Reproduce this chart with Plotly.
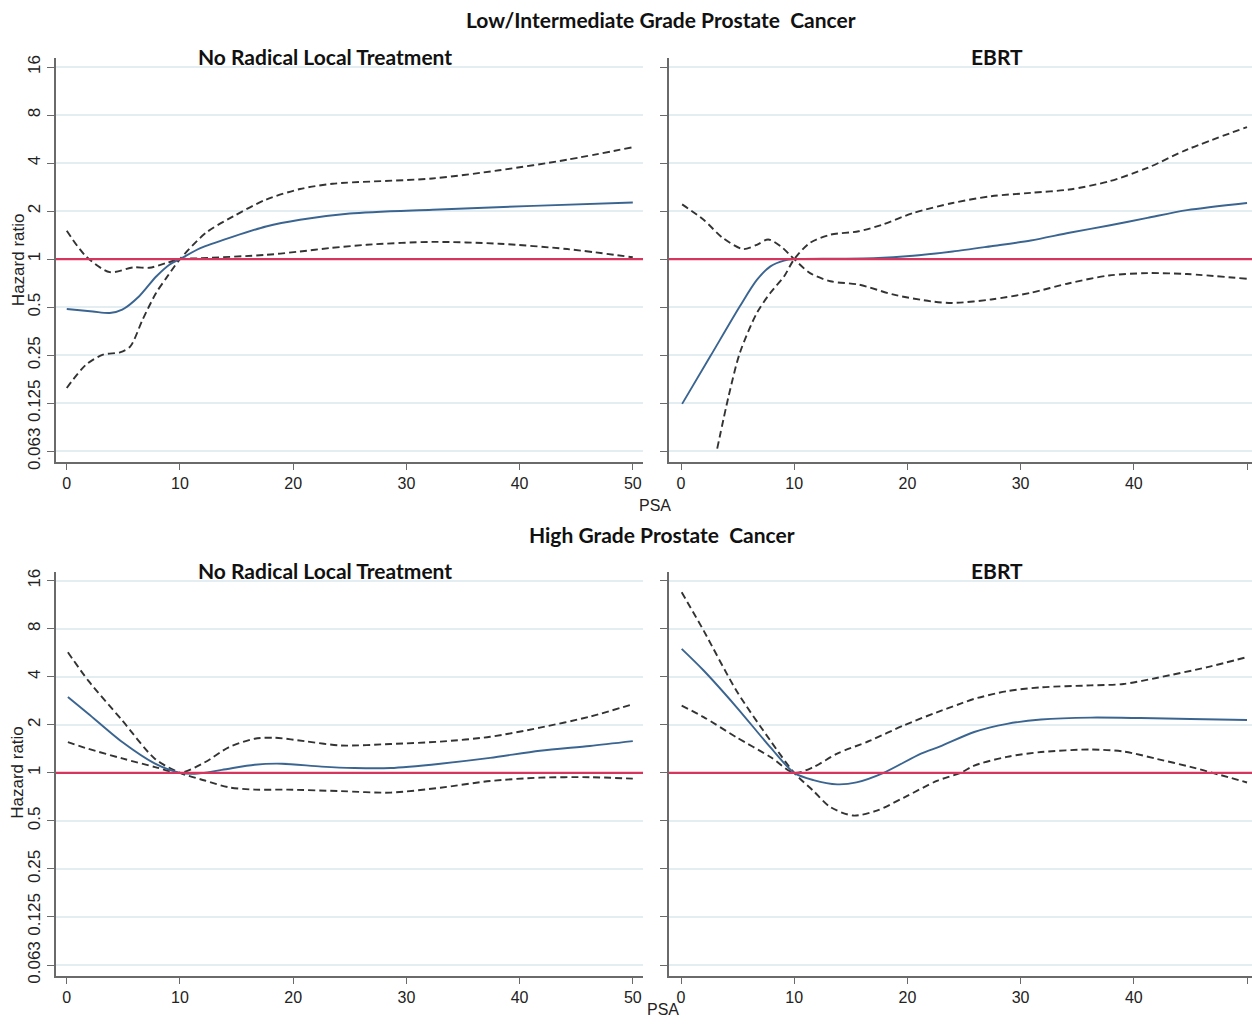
import math
import plotly.graph_objects as go

W, H = 1252, 1027

# ---------------- data (hazard ratios) ----------------
# Top-left: Low/Intermediate grade, No Radical Local Treatment
tl_blue_x = [0, 2.3, 3.8, 4.9, 6.4, 7.9, 9.1, 10, 11.8, 14.7, 17.6, 20.6, 25, 32.3, 41.2, 50]
tl_blue_y = [0.487, 0.470, 0.460, 0.483, 0.586, 0.779, 0.927, 1, 1.173, 1.385, 1.602, 1.765, 1.932, 2.042, 2.158, 2.266]
tl_ciA_x = [0, 1.7, 3.8, 5.9, 7.3, 8.8, 10, 11.8, 17.6, 20.6, 23.2, 26.5, 32.3, 38.2, 44.2, 50]
tl_ciA_y = [1.505, 1.042, 0.829, 0.889, 0.883, 0.946, 1, 1.014, 1.064, 1.117, 1.173, 1.231, 1.283, 1.249, 1.157, 1.028]
tl_ciB_x = [0, 1.7, 3.2, 4.7, 5.6, 6.7, 7.9, 8.8, 10, 12.3, 14.7, 17.6, 20.6, 23.5, 32.3, 38.2, 44.2, 50]
tl_ciB_y = [0.156, 0.218, 0.252, 0.261, 0.283, 0.418, 0.616, 0.763, 1, 1.464, 1.853, 2.362, 2.751, 2.969, 3.204, 3.605, 4.199, 5.028]

# Top-right: Low/Intermediate grade, EBRT
tr_blue_x = [0.1, 2.6, 5.2, 6.7, 7.9, 9.1, 10, 13.6, 17, 20.5, 24, 27.4, 30.9, 34.3, 37.8, 41.2, 44.7, 50]
tr_blue_y = [0.124, 0.247, 0.507, 0.742, 0.901, 0.979, 1, 1.007, 1.014, 1.050, 1.117, 1.206, 1.310, 1.464, 1.625, 1.815, 2.028, 2.250]
tr_ciA_x = [0.1, 2.0, 3.7, 5.5, 6.7, 7.7, 8.8, 10, 11.4, 13.2, 15.7, 18.8, 22.2, 24, 27.4, 30.9, 34.3, 37.8, 41.2, 44.7, 50]
tr_ciA_y = [2.204, 1.765, 1.357, 1.157, 1.231, 1.329, 1.206, 1, 0.818, 0.727, 0.693, 0.599, 0.543, 0.532, 0.559, 0.616, 0.707, 0.790, 0.818, 0.807, 0.753]
tr_ciB_x = [3.2, 4.2, 5.2, 6.7, 7.9, 9.1, 10, 11.4, 13.2, 15.7, 17.8, 20.5, 24, 27.4, 30.9, 34.3, 37.8, 41.2, 44.7, 50]
tr_ciB_y = [0.065, 0.138, 0.259, 0.460, 0.616, 0.779, 1, 1.266, 1.424, 1.495, 1.647, 1.945, 2.250, 2.479, 2.603, 2.732, 3.073, 3.732, 4.857, 6.727]

# Bottom-left: High grade, No Radical Local Treatment
bl_blue_x = [0.1, 1.9, 4.9, 7.8, 10, 11.3, 13.7, 16.6, 19, 22.5, 25.4, 28.6, 33, 37.4, 41.8, 46.2, 50]
bl_blue_y = [2.990, 2.346, 1.558, 1.141, 1, 0.986, 1.043, 1.125, 1.141, 1.094, 1.072, 1.072, 1.141, 1.240, 1.376, 1.474, 1.580]
bl_ciA_x = [0.1, 1.9, 4.9, 7.8, 10, 12.2, 14.3, 16.6, 19.5, 24.2, 28.6, 33, 37.4, 41.8, 46.2, 50]
bl_ciA_y = [5.696, 3.784, 2.129, 1.223, 1, 0.895, 0.812, 0.785, 0.785, 0.768, 0.752, 0.807, 0.889, 0.933, 0.939, 0.920]
bl_ciB_x = [0.1, 1.9, 4.9, 7.8, 10, 12.2, 14.3, 16.6, 18.4, 21, 24.2, 28.6, 33, 37.4, 41.8, 46.2, 50]
bl_ciB_y = [1.558, 1.414, 1.231, 1.087, 1, 1.165, 1.444, 1.636, 1.659, 1.580, 1.484, 1.516, 1.569, 1.682, 1.919, 2.250, 2.694]

# Bottom-right: High grade, EBRT
br_blue_x = [0.06, 2.0, 4.9, 7.9, 10, 11.7, 13.8, 15.5, 17.9, 21.2, 22.9, 25.9, 28.8, 31.8, 36.2, 40.6, 45, 50]
br_blue_y = [5.979, 4.377, 2.585, 1.444, 1, 0.901, 0.847, 0.871, 1, 1.320, 1.464, 1.802, 2.028, 2.158, 2.219, 2.204, 2.173, 2.144]
br_ciA_x = [0.06, 2.0, 4.9, 7.9, 10, 11.7, 13.2, 15.2, 17.3, 19.7, 22.6, 24.7, 25.9, 28.8, 31.8, 36.2, 39.1, 42.1, 45, 47.4, 50]
br_ciA_y = [13.55, 7.78, 3.27, 1.59, 1, 0.77, 0.61, 0.54, 0.58, 0.70, 0.89, 1.0, 1.11, 1.26, 1.35, 1.40, 1.36, 1.22, 1.09, 0.98, 0.87]
br_ciB_x = [0.06, 2.0, 4.9, 7.9, 10, 11.7, 13.8, 16.7, 19.7, 22.6, 24.7, 25.9, 28.8, 31.8, 36.2, 39.1, 42.1, 46.5, 50]
br_ciB_y = [2.639, 2.235, 1.670, 1.257, 1, 1.087, 1.320, 1.591, 1.986, 2.395, 2.713, 2.908, 3.249, 3.434, 3.531, 3.605, 3.945, 4.595, 5.315]

y_tickvals = [0.0625, 0.125, 0.25, 0.5, 1, 2, 4, 8, 16]
y_ticktext = ["0.063", "0.125", "0.25", "0.5", "1", "2", "4", "8", "16"]
x_tickvals = [0, 10, 20, 30, 40, 50]
x_ticktext = ["0", "10", "20", "30", "40", "50"]

row_titles = ["Low/Intermediate Grade Prostate\u00a0 Cancer", "High Grade Prostate\u00a0 Cancer"]
col_titles = ["No Radical Local Treatment", "EBRT"]
y_title = "Hazard ratio"
x_title = "PSA"

# ---------------- styling ----------------
BLUE = "#3b6591"
DASH = "#333333"
RED = "#d6365e"
GRID = "#e4edf2"
AXIS = "#6a6a6a"


def px(x):
    return x / W


def py(y):
    # vertical pixel position (with a small correction observed in rendering)
    yd = (y - 3.2) / 0.988
    return 1 - yd / H


fig = go.Figure()

panels = [
    ("x", "y", tl_blue_x, tl_blue_y, tl_ciA_x, tl_ciA_y, tl_ciB_x, tl_ciB_y),
    ("x2", "y2", tr_blue_x, tr_blue_y, tr_ciA_x, tr_ciA_y, tr_ciB_x, tr_ciB_y),
    ("x3", "y3", bl_blue_x, bl_blue_y, bl_ciA_x, bl_ciA_y, bl_ciB_x, bl_ciB_y),
    ("x4", "y4", br_blue_x, br_blue_y, br_ciA_x, br_ciA_y, br_ciB_x, br_ciB_y),
]

for xa, ya, bx, by, ax_, ay_, cx, cy in panels:
    for sx, sy in ((ax_, ay_), (cx, cy)):
        fig.add_trace(go.Scatter(x=sx, y=sy, xaxis=xa, yaxis=ya, mode="lines",
                                 line=dict(color=DASH, width=1.9, dash="7px,4px",
                                           shape="spline", smoothing=0.8),
                                 showlegend=False, hoverinfo="skip"))
    fig.add_trace(go.Scatter(x=bx, y=by, xaxis=xa, yaxis=ya, mode="lines",
                             line=dict(color=BLUE, width=1.9, shape="spline", smoothing=0.8),
                             showlegend=False, hoverinfo="skip"))

# pixel geometry
left_dom = [px(56), px(643)]
right_dom = [px(669), 1.0]
top_dom = [py(462), py(58)]
bot_dom = [py(975), py(571)]
left_range = [-0.95, 50.9]
right_range = [-1.06, 50.44]
y_range = [math.log10(2 ** -4.23), math.log10(2 ** 4.19)]

tick_font = dict(family="Liberation Sans, Arial, sans-serif", size=17, color="#222")
xtick_font = dict(family="Liberation Sans, Arial, sans-serif", size=16, color="#222")


def xaxis(dom, rng, anchor):
    return dict(domain=dom, range=rng, anchor=anchor, tickvals=x_tickvals, ticktext=x_ticktext,
                showgrid=False, zeroline=False, showline=True, linecolor=AXIS, linewidth=1.8,
                ticks="outside", ticklen=6, tickwidth=1.4, tickcolor=AXIS, tickfont=xtick_font)


def yaxis(dom, anchor, labels):
    return dict(domain=dom, type="log", range=y_range, anchor=anchor, tickvals=y_tickvals,
                ticktext=y_ticktext, showticklabels=labels, tickangle=-90,
                showgrid=True, gridcolor=GRID, gridwidth=1.5, zeroline=False,
                showline=True, linecolor=AXIS, linewidth=1.8,
                ticks="outside", ticklen=7, tickwidth=1.4, tickcolor=AXIS, tickfont=tick_font)


shapes = []
for xa, ya in (("x", "y"), ("x2", "y2"), ("x3", "y3"), ("x4", "y4")):
    shapes.append(dict(type="line", xref=xa + " domain", yref=ya, x0=0, x1=1, y0=1, y1=1,
                       line=dict(color=RED, width=2.3), layer="above"))

title_font = dict(family="Lato, Open Sans, sans-serif", size=21, color="#111")
annotations = [
    dict(text="<b>%s</b>" % row_titles[0], x=px(661), y=py(20), xref="paper", yref="paper",
         showarrow=False, font=title_font, xanchor="center", yanchor="middle"),
    dict(text="<b>%s</b>" % row_titles[1], x=px(662), y=py(534), xref="paper", yref="paper",
         showarrow=False, font=title_font, xanchor="center", yanchor="middle"),
]
for cy in (57, 570):
    annotations.append(dict(text="<b>%s</b>" % col_titles[0], x=px(325), y=py(cy), xref="paper",
                            yref="paper", showarrow=False, font=title_font,
                            xanchor="center", yanchor="middle"))
    annotations.append(dict(text="<b>%s</b>" % col_titles[1], x=px(997), y=py(cy), xref="paper",
                            yref="paper", showarrow=False, font=title_font,
                            xanchor="center", yanchor="middle"))
lab_font = dict(family="Liberation Sans, Arial, sans-serif", size=17, color="#222")
for cy in (260, 772):
    annotations.append(dict(text=y_title, x=px(18), y=py(cy), xref="paper", yref="paper",
                            showarrow=False, font=lab_font, textangle=-90,
                            xanchor="center", yanchor="middle"))
annotations.append(dict(text=x_title, x=px(655), y=py(505), xref="paper", yref="paper",
                        showarrow=False, font=xtick_font, xanchor="center", yanchor="middle"))
# bottom axis label anchored to the bottom edge so nothing spills past the page
annotations.append(dict(text=x_title, x=px(663), y=0, xref="paper", yref="paper",
                        showarrow=False, font=xtick_font, xanchor="center", yanchor="bottom",
                        borderpad=0))

fig.update_layout(
    width=W, height=H, margin=dict(l=0, r=0, t=0, b=0),
    paper_bgcolor="white", plot_bgcolor="white",
    xaxis=xaxis(left_dom, left_range, "y"),
    xaxis2=xaxis(right_dom, right_range, "y2"),
    xaxis3=xaxis(left_dom, left_range, "y3"),
    xaxis4=xaxis(right_dom, right_range, "y4"),
    yaxis=yaxis(top_dom, "x", True),
    yaxis2=yaxis(top_dom, "x2", False),
    yaxis3=yaxis(bot_dom, "x3", True),
    yaxis4=yaxis(bot_dom, "x4", False),
    shapes=shapes, annotations=annotations,
)

fig.write_html("out.html", config={"displayModeBar": False},
               post_script="document.body.style.margin='0';")
